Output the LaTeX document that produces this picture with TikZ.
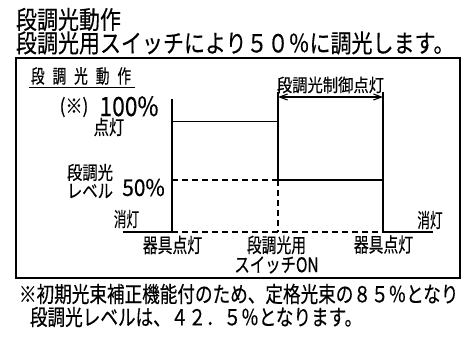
\documentclass[tikz,border=0pt]{standalone}
\usepackage{fontspec}
\usepackage{graphicx}
\setmainfont{Noto Sans CJK JP}[FakeBold=0.4]
\usetikzlibrary{arrows.meta}
\newcommand\tx[3]{\scalebox{#2}[1]{\fontsize{#1}{#1}\selectfont #3}}
\begin{document}
\begin{tikzpicture}[x=1pt,y=-1pt,
  lbl/.style={inner sep=0pt,outer sep=0pt},
  ln/.style={line width=1.3pt},
  dsh/.style={line width=1.3pt,dash pattern=on 6pt off 4pt},
  frame/.style={line width=1.5pt},
  tip/.style={{Straight Barb[length=8pt,width=6pt]}-{Straight Barb[length=8pt,width=6pt]}}]
\useasboundingbox[fill=white] (0,0) rectangle (461,338);
% titles
\node[lbl,anchor=west] (t1) at (16,19.5) {\tx{25}{0.84}{段調光動作}};
\node[lbl,anchor=west] (t2) at (16,43) {\tx{25}{0.84}{段調光用スイッチにより５０％に調光します。}};
% frame
\draw[frame] (16,58) rectangle (460,278);
% box heading
\node[lbl,anchor=west] (hd) at (31,76) {\tx{19}{0.72}{段\hspace{11pt}調\hspace{11pt}光\hspace{11pt}動\hspace{11pt}作}};
\coordinate (u1) at (29,87); \coordinate (u2) at (135,87);
\draw[line width=1pt] (u1) -- (u2);
% left labels
\node[lbl] (ast) at (74,107) {\tx{20}{0.855}{(※)}};
\node[lbl,anchor=base,text depth=0pt] (p100) at (129,116) {\tx{26.5}{0.86}{100\%}};
\node[lbl] (on1) at (109,127) {\tx{20}{0.765}{点灯}};
\node[lbl] (dl1) at (90,172.5) {\tx{18.5}{0.83}{段調光}};
\node[lbl] (dl2) at (90,191) {\tx{18.5}{0.83}{レベル}};
\node[lbl] (p50) at (143.5,187.5) {\tx{23}{0.91}{50\%}};
\node[lbl] (off1) at (126.5,219) {\tx{20}{0.63}{消灯}};
\node[lbl] (off2) at (430,220) {\tx{20}{0.63}{消灯}};
\node[lbl] (ki1) at (172.5,245) {\tx{20}{0.74}{器具点灯}};
\node[lbl] (ki2) at (383.5,244.5) {\tx{20}{0.74}{器具点灯}};
\node[lbl] (sw1) at (276.5,245) {\tx{20}{0.74}{段調光用}};
\node[lbl] (sw2) at (276.5,265) {\tx{20}{0.77}{スイッチON}};
\node[lbl] (ctl) at (330.5,85) {\tx{18}{0.85}{段調光制御点灯}};
% chart coordinates
\coordinate (ax0) at (172,99);
\coordinate (ax1) at (172,232);
\coordinate (a100) at (172,121.5);
\coordinate (b100) at (278,121.5);
\coordinate (bt) at (278,92);
\coordinate (b50) at (278,180);
\coordinate (bb) at (278,232);
\coordinate (ct) at (383,92);
\coordinate (c50) at (383,180);
\coordinate (cb) at (383,232);
\coordinate (a50) at (172,180);
\coordinate (l0) at (123,232);
\coordinate (r0) at (433,232);
\coordinate (arL) at (278,97);
\coordinate (arR) at (383,97);
% chart
\draw[ln] (ax0) -- (ax1);
\draw[ln] (a100) -- (b100);
\draw[ln] (bt) -- (b50);
\draw[dsh] (b50) -- (bb);
\draw[ln] (ct) -- (cb);
\draw[dsh] (a50) -- (b50);
\draw[ln] (b50) -- (c50);
\draw[ln] (l0) -- (ax1);
\draw[dsh] (ax1) -- (cb);
\draw[ln] (cb) -- (r0);
\draw[line width=1.1pt,tip] (arL) -- (arR);
% footer
\node[lbl,anchor=west] (f1) at (19,294) {\tx{22}{0.8}{※初期光束補正機能付のため、定格光束の８５％となり}};
\node[lbl,anchor=west] (f2) at (30,317) {\tx{22}{0.8}{段調光レベルは、４２．５％となります。}};
\end{tikzpicture}
\end{document}
